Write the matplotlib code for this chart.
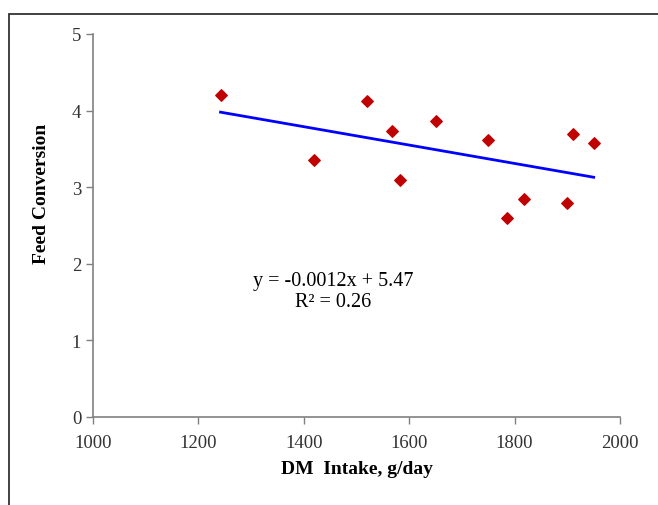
import matplotlib.pyplot as plt
from matplotlib.patches import Rectangle

# data
dm_intake = [1242, 1420, 1520, 1568, 1583, 1650, 1750, 1785, 1818, 1900, 1910, 1950]
feed_conv = [4.20, 3.35, 4.12, 3.73, 3.10, 3.87, 3.62, 2.60, 2.85, 2.80, 3.70, 3.58]
slope = -0.0012
intercept = 5.47
r_squared = 0.26

x_ticks = [1000, 1200, 1400, 1600, 1800, 2000]
y_ticks = [0, 1, 2, 3, 4, 5]

plt.rcParams["font.family"] = ["Liberation Serif", "DejaVu Serif"]

fig = plt.figure(figsize=(6.58, 5.06), dpi=100)

# outer frame (left and top visible, rest clipped by image edge)
fig.patches.append(
    Rectangle((9 / 658, -0.1), 1.2, (506 - 15) / 506 + 0.1,
              transform=fig.transFigure, fill=False, edgecolor="#333333", linewidth=1.3)
)

ax = fig.add_axes([93 / 658, 88 / 506, (620 - 93) / 658, (418 - 35) / 506])

ax.scatter(dm_intake, feed_conv, marker="D", s=34, color="#c00000", zorder=3)

x_fit = [min(dm_intake), max(dm_intake)]
y_fit = [slope * x + intercept for x in x_fit]
ax.plot(x_fit, y_fit, color="#0000ff", linewidth=2)

ax.text(1455, 1.64, f"y = {slope}x + {intercept}\nR\u00b2 = {r_squared}",
        ha="center", va="center", fontsize=14.5, linespacing=1.15)

ax.set_xlim(1000, 2000)
ax.set_ylim(0, 5)
ax.set_xticks(x_ticks)
ax.set_yticks(y_ticks)
ax.tick_params(direction="out", length=5, width=1, color="#808080",
               labelsize=13.5, labelcolor="#333333")
ax.tick_params(axis="x", pad=7)

for side in ["top", "right"]:
    ax.spines[side].set_visible(False)
for side in ["left", "bottom"]:
    ax.spines[side].set_color("#808080")
    ax.spines[side].set_linewidth(1.2)

ax.set_xlabel("DM  Intake, g/day", fontsize=14, fontweight="bold")
ax.set_ylabel("Feed Conversion", fontsize=14, fontweight="bold")
ax.xaxis.set_label_coords(0.5, -(470 - 418) / 383, transform=ax.transAxes)
ax.yaxis.set_label_coords(-(93 - 41) / 527, (418 - 194) / 383, transform=ax.transAxes)
ax.xaxis.label.set_va("center")
ax.yaxis.label.set_va("center")

fig.savefig("out.png", dpi=100)
